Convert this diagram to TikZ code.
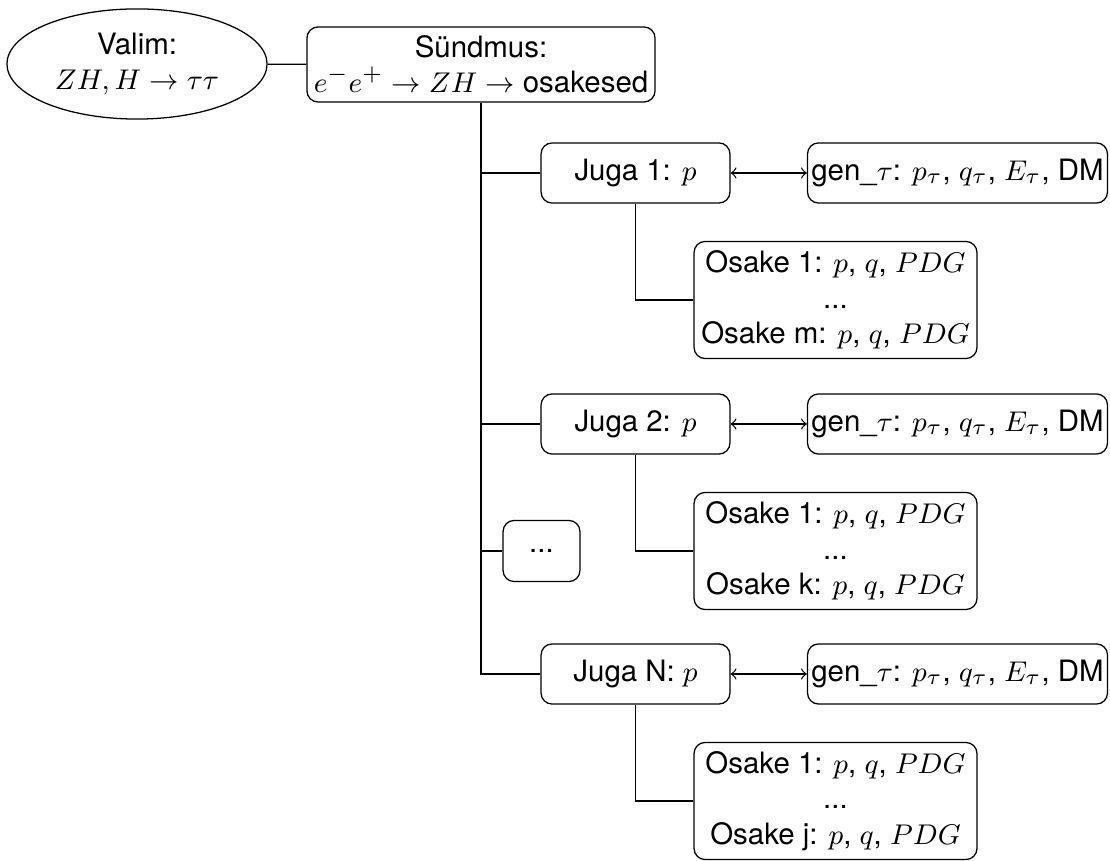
\documentclass[tikz,border=0pt]{standalone}
\usepackage{fontspec}
\setmainfont{TeX Gyre Heros}
\usetikzlibrary{shapes.geometric}
\begin{document}
\begin{tikzpicture}[x=0.316pt,y=-0.316pt,
  txt/.style={font=\fontsize{9.3}{11.2}\selectfont},
  box/.style={draw,rounded corners=3.5pt,align=center,inner sep=0pt,txt},
  jugabox/.style={box,minimum width=59.7pt,minimum height=19pt},
  genbox/.style={box,minimum width=94.8pt,minimum height=19pt},
  osakebox/.style={box,minimum width=89.4pt,minimum height=37pt},
  dotsbox/.style={box,minimum width=24.3pt,minimum height=19.3pt},
  link/.style={draw,line width=0.4pt},
  bidir/.style={draw,line width=0.4pt,<->}]
\useasboundingbox (0,0) rectangle (1110,861);

% selection and event
\node[draw,ellipse,minimum width=82.2pt,minimum height=34.8pt,inner sep=0pt,align=center,txt]
  (valim) at (137,64) {Valim:\\$ZH, H\to\tau\tau$};
\node[box,minimum width=110pt,minimum height=23.7pt] (event) at (481,64.5)
  {Sündmus:\\$e^-e^+\to ZH\to$ osakesed};

% jets
\node[jugabox] (j1) at (635.5,173) {Juga 1: $p$};
\node[jugabox] (j2) at (635.5,424) {Juga 2: $p$};
\node[dotsbox] (jd) at (541.5,551) {...};
\node[jugabox] (jn) at (635.5,674) {Juga N: $p$};

% generator-level tau info
\node[genbox] (g1) at (957.5,173) {gen\_$\tau$: $p_\tau$, $q_\tau$, $E_\tau$, DM};
\node[genbox] (g2) at (957.5,424) {gen\_$\tau$: $p_\tau$, $q_\tau$, $E_\tau$, DM};
\node[genbox] (gn) at (957.5,674) {gen\_$\tau$: $p_\tau$, $q_\tau$, $E_\tau$, DM};

% particles of each jet
\node[osakebox] (o1) at (835.5,300) {Osake 1: $p$, $q$, $PDG$\\...\\Osake m: $p$, $q$, $PDG$};
\node[osakebox] (o2) at (835.5,551) {Osake 1: $p$, $q$, $PDG$\\...\\Osake k: $p$, $q$, $PDG$};
\node[osakebox] (on) at (835.5,801) {Osake 1: $p$, $q$, $PDG$\\...\\Osake j: $p$, $q$, $PDG$};

% connectors
\draw[link] (valim) -- (event);
\draw[link] (event.south) |- (jn.west);
\coordinate (trunk) at (event.south);
\draw[link] (trunk |- j1.west) -- (j1.west);
\draw[link] (trunk |- j2.west) -- (j2.west);
\draw[link] (trunk |- jd.west) -- (jd.west);

\draw[bidir] (j1) -- (g1);
\draw[bidir] (j2) -- (g2);
\draw[bidir] (jn) -- (gn);

\draw[link] (j1.south) |- (o1.west);
\draw[link] (j2.south) |- (o2.west);
\draw[link] (jn.south) |- (on.west);
\end{tikzpicture}
\end{document}
